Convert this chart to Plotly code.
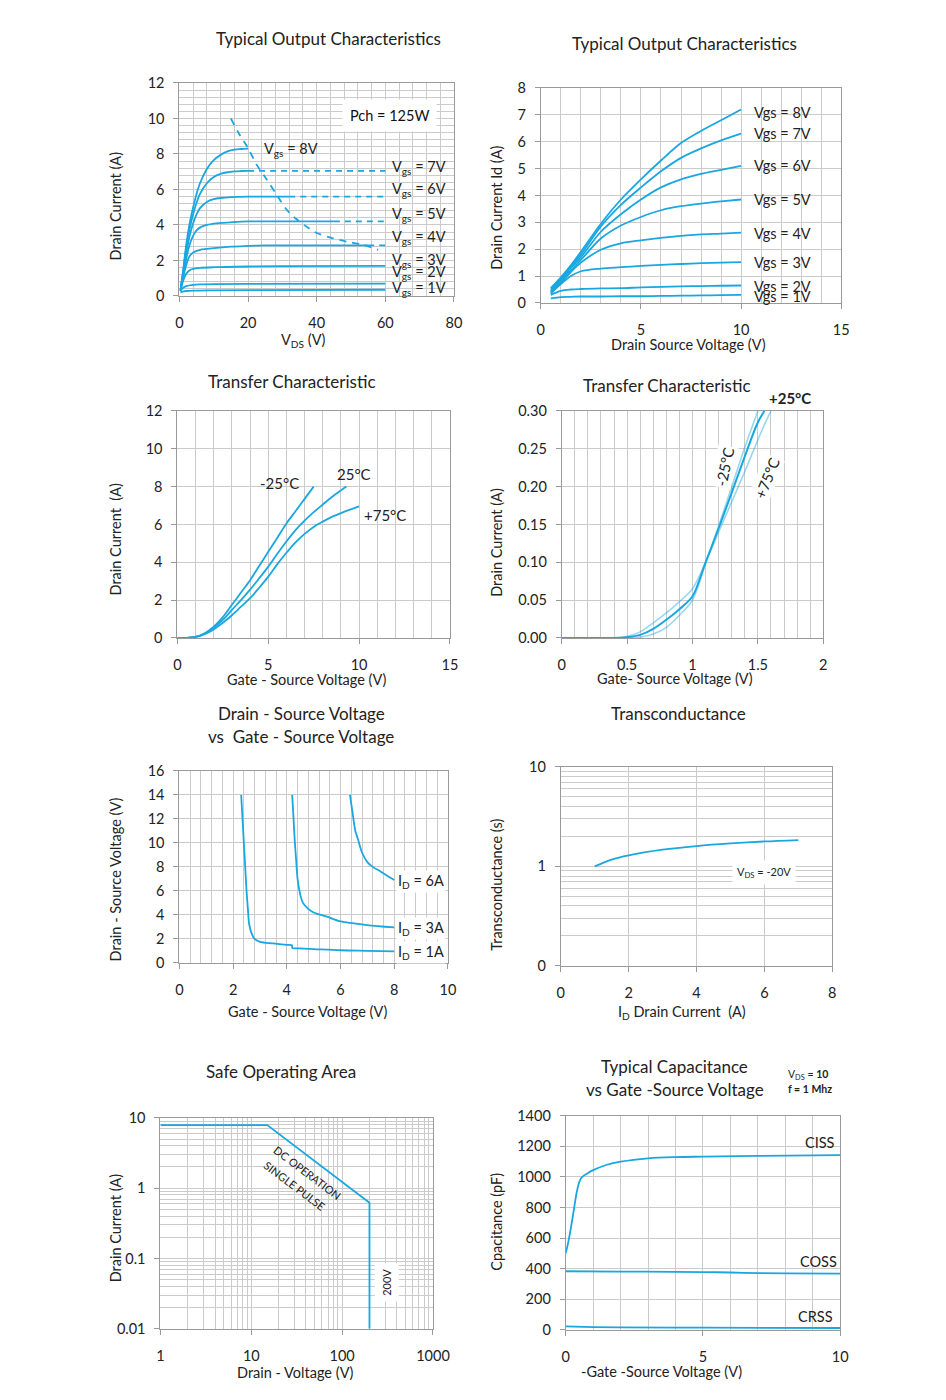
import math
import plotly.graph_objects as go

W, H = 946, 1400
BLUE = "#1aa7e0"
FONT = "Lato"

# ---------------- data ----------------
# Panel 1: Typical Output Characteristics (0-80 V)
p1_v8_x = [0.3, 1, 2, 3, 4, 5, 6, 8, 10, 12, 14, 16, 18, 20]
p1_v8_y = [0.3, 1.3, 2.9, 4.1, 5.0, 5.75, 6.35, 7.15, 7.65, 7.95, 8.15, 8.25, 8.28, 8.3]
p1_v7_x = [0.3, 1, 2, 3, 4, 5, 6, 8, 10, 12, 14, 16, 18, 20]
p1_v7_y = [0.3, 1.25, 2.7, 3.8, 4.6, 5.25, 5.75, 6.35, 6.7, 6.88, 6.97, 7.02, 7.04, 7.05]
p1_v6_x = [0.3, 1, 2, 3, 4, 5, 6, 8, 10, 12, 15, 20, 25, 32]
p1_v6_y = [0.3, 1.2, 2.4, 3.4, 4.1, 4.6, 4.95, 5.3, 5.45, 5.52, 5.57, 5.6, 5.6, 5.6]
p1_v5_x = [0.3, 1, 2, 3, 4, 5, 6, 8, 10, 15, 20, 25, 30, 45]
p1_v5_y = [0.3, 1.1, 2.1, 2.9, 3.4, 3.7, 3.85, 4.0, 4.08, 4.15, 4.2, 4.2, 4.2, 4.2]
p1_v4_x = [0.3, 1, 2, 3, 4, 6, 8, 10, 15, 20, 25, 30, 55]
p1_v4_y = [0.3, 0.95, 1.75, 2.25, 2.45, 2.6, 2.65, 2.7, 2.78, 2.82, 2.85, 2.85, 2.85]
p1_v3_x = [0.3, 1, 2, 3, 4, 6, 10, 20, 30, 60]
p1_v3_y = [0.3, 0.8, 1.25, 1.45, 1.52, 1.58, 1.62, 1.66, 1.68, 1.7]
p1_v2_x = [0.3, 1, 2, 4, 6, 10, 20, 60]
p1_v2_y = [0.3, 0.45, 0.55, 0.62, 0.65, 0.67, 0.68, 0.7]
p1_v1_x = [0.3, 1, 2, 5, 10, 20, 60]
p1_v1_y = [0.2, 0.25, 0.28, 0.3, 0.32, 0.33, 0.35]
p1_dash_x = [[20, 60], [32, 60], [45, 60], [55, 60]]
p1_dash_y = [[7.05, 7.05], [5.6, 5.6], [4.2, 4.2], [2.85, 2.85]]
p1_pch_x = [15, 17.5, 20, 22.5, 25.5, 28.5, 31.3, 34, 37.1, 40, 44.8, 49, 53.6, 57.9]
p1_pch_y = [10, 9.1, 8.33, 7.4, 6.55, 5.65, 4.85, 4.35, 3.9, 3.55, 3.25, 3.05, 2.88, 2.6]
p1_labels = ["8V", "7V", "6V", "5V", "4V", "3V", "2V", "1V"]
p1_label_y = [8.25, 7.25, 6.0, 4.6, 3.3, 2.0, 1.3, 0.4]

# Panel 2: Typical Output Characteristics (0-10 V)
p2_x = [0.5, 1, 1.5, 2, 3, 4, 5, 6, 7, 8, 9, 10]
p2_v8 = [0.55, 0.95, 1.4, 1.9, 2.95, 3.85, 4.6, 5.3, 5.95, 6.4, 6.8, 7.2]
p2_v7 = [0.5, 0.9, 1.35, 1.8, 2.85, 3.65, 4.3, 4.9, 5.4, 5.75, 6.05, 6.3]
p2_v6 = [0.45, 0.85, 1.3, 1.7, 2.65, 3.3, 3.85, 4.3, 4.6, 4.8, 4.95, 5.1]
p2_v5 = [0.42, 0.8, 1.2, 1.6, 2.4, 2.88, 3.2, 3.45, 3.6, 3.7, 3.78, 3.85]
p2_v4 = [0.38, 0.75, 1.15, 1.5, 1.98, 2.22, 2.33, 2.42, 2.5, 2.55, 2.58, 2.62]
p2_v3 = [0.35, 0.7, 1.0, 1.18, 1.28, 1.33, 1.38, 1.42, 1.45, 1.48, 1.5, 1.52]
p2_v2 = [0.3, 0.45, 0.5, 0.52, 0.54, 0.55, 0.58, 0.6, 0.62, 0.63, 0.64, 0.65]
p2_v1 = [0.17, 0.22, 0.23, 0.24, 0.24, 0.25, 0.25, 0.26, 0.27, 0.28, 0.29, 0.3]
p2_labels = ["Vgs = 8V", "Vgs = 7V", "Vgs = 6V", "Vgs = 5V", "Vgs = 4V", "Vgs = 3V", "Vgs = 2V", "Vgs = 1V"]
p2_label_y = [7.1, 6.3, 5.1, 3.85, 2.6, 1.5, 0.62, 0.24]

# Panel 3: Transfer Characteristic (0-15 V)
p3_m25_x = [0, 0.5, 1, 1.5, 2, 2.5, 3, 3.5, 4, 4.5, 5, 5.5, 6, 6.5, 7, 7.5]
p3_m25_y = [0, 0, 0.05, 0.25, 0.6, 1.1, 1.75, 2.4, 3.05, 3.8, 4.55, 5.3, 6.05, 6.7, 7.35, 8.0]
p3_25_x = [0, 0.5, 1, 1.5, 2, 2.5, 3, 3.5, 4, 4.5, 5, 5.5, 6, 6.5, 7, 7.5, 8, 8.5, 9, 9.3]
p3_25_y = [0, 0, 0.05, 0.22, 0.55, 0.95, 1.48, 2.0, 2.55, 3.15, 3.77, 4.45, 5.1, 5.7, 6.2, 6.65, 7.05, 7.45, 7.8, 8.0]
p3_75_x = [0, 0.5, 1, 1.5, 2, 2.5, 3, 3.5, 4, 4.5, 5, 5.5, 6, 6.5, 7, 7.5, 8, 8.5, 9, 9.5, 10]
p3_75_y = [0, 0, 0.05, 0.2, 0.45, 0.8, 1.2, 1.65, 2.1, 2.65, 3.24, 3.9, 4.5, 5.05, 5.5, 5.87, 6.15, 6.4, 6.6, 6.78, 6.95]

# Panel 4: Transfer Characteristic (0-2 V)
p4_25_x = [0, 0.4, 0.5, 0.6, 0.7, 0.8, 0.9, 1.0, 1.1, 1.2, 1.3, 1.4, 1.5, 1.55]
p4_25_y = [0, 0, 0.001, 0.004, 0.012, 0.024, 0.038, 0.055, 0.1, 0.145, 0.192, 0.24, 0.285, 0.30]
p4_75_x = [0, 0.4, 0.5, 0.6, 0.7, 0.8, 0.9, 1.0, 1.1, 1.2, 1.3, 1.4, 1.5, 1.55, 1.6]
p4_75_y = [0, 0, 0.002, 0.008, 0.02, 0.033, 0.048, 0.065, 0.1, 0.14, 0.18, 0.22, 0.262, 0.282, 0.30]
p4_m25_x = [0, 0.4, 0.5, 0.6, 0.7, 0.8, 0.9, 1.0, 1.1, 1.2, 1.3, 1.4, 1.5]
p4_m25_y = [0, 0, 0, 0.001, 0.005, 0.014, 0.03, 0.05, 0.098, 0.148, 0.2, 0.252, 0.30]

# Panel 5: Drain-Source Voltage vs Gate-Source Voltage
p5_1a_x = [2.3, 2.35, 2.4, 2.45, 2.5, 2.55, 2.6, 2.7, 2.8, 3.0, 3.5, 4.0, 4.2, 4.2, 4.5, 5, 6, 7, 8]
p5_1a_y = [14, 12, 10, 8, 6, 4.5, 3.2, 2.4, 2.0, 1.75, 1.62, 1.5, 1.45, 1.25, 1.2, 1.15, 1.05, 1.0, 0.95]
p5_3a_x = [4.2, 4.25, 4.3, 4.35, 4.4, 4.5, 4.6, 4.8, 5.0, 5.5, 6.0, 6.5, 7.0, 8.0]
p5_3a_y = [14, 12, 10, 8.5, 7, 5.7, 5.0, 4.5, 4.2, 3.85, 3.45, 3.3, 3.15, 2.95]
p5_6a_x = [6.35, 6.45, 6.55, 6.65, 6.8, 7.0, 7.2, 7.5, 8.0]
p5_6a_y = [14, 12.5, 11, 10.3, 9.2, 8.4, 8.0, 7.6, 6.9]

# Panel 6: Transconductance
p6_id = [1, 1.5, 2, 3, 4, 5, 6, 7]
p6_gfs = [1.0, 1.17, 1.29, 1.47, 1.6, 1.7, 1.78, 1.84]

# Panel 7: Safe Operating Area
p7_vd = [1, 15, 200, 200]
p7_id = [7.9, 7.9, 0.62, 0.01]

# Panel 8: Typical Capacitance
p8_ciss_x = [0, 0.1, 0.2, 0.3, 0.4, 0.5, 0.6, 0.8, 1.0, 1.5, 2, 3, 4, 5, 7, 10]
p8_ciss_y = [500, 580, 680, 790, 900, 970, 1000, 1025, 1045, 1080, 1100, 1122, 1130, 1133, 1138, 1143]
p8_coss_x = [0, 2, 4, 5, 6, 7, 8, 10]
p8_coss_y = [383, 381, 379, 378, 375, 371, 369, 367]
p8_crss_x = [0, 1, 2, 5, 10]
p8_crss_y = [22, 18, 16, 14, 12]

# ---------------- layout helpers ----------------
fig = go.Figure()

# the page photograph maps figure px -> screen px approx: X = 11.3 + 0.9795*x, Y = 17 + 0.988*y
SX, AX = 0.9795, 11.3
SY, AY = 0.988, 17.0

def ix(x):
    return (x - AX) / SX

def iy(y):
    return (y - AY) / SY

def px(x, y):
    return ix(x) / W, 1 - iy(y) / H

def dom(x0, x1, y0, y1):
    return [ix(x0) / W, ix(x1) / W], [1 - iy(y1) / H, 1 - iy(y0) / H]

GRID = "#cbcbcb"
LINE = "#9a9a9a"
TICK = 14.5
AXT = 14.5
TIT = 17

def axis(domain, rng, typ="linear", dtick=None, minor=None, tickvals=None, ticktext=None,
         tickformat=None, anchor=None, xdir=True):
    d = dict(domain=domain, range=rng, type=typ, showline=True, linecolor=LINE, linewidth=1,
             mirror=True, showgrid=True, gridcolor=GRID, gridwidth=1, zeroline=False,
             ticks="outside", ticklen=5, tickcolor=LINE,
             tickfont=dict(size=TICK, color="#222", family=FONT), anchor=anchor,
             ticklabelstandoff=9 if xdir else 6)
    if dtick is not None:
        d["dtick"] = dtick
    if tickvals is not None:
        d["tickvals"] = tickvals
        d["ticktext"] = ticktext
    if tickformat:
        d["tickformat"] = tickformat
    if minor is not None:
        m = dict(showgrid=True, gridcolor=GRID, gridwidth=1, ticks="")
        m.update(minor)
        d["minor"] = m
    return d

annos = []

def text(x, y, s, size=14, angle=0, xanchor="center", yanchor="middle", color="#222", **kw):
    X, Y = px(x, y)
    a = dict(x=X, y=Y, xref="paper", yref="paper", text=s, showarrow=False, textangle=angle,
             xanchor=xanchor, yanchor=yanchor, font=dict(size=size, color=color, family=FONT))
    a.update(kw)
    annos.append(a)

def dtext(xref, yref, x, y, s, size=14, angle=0, xanchor="center", yanchor="middle", **kw):
    a = dict(x=x, y=y, xref=xref, yref=yref, text=s, showarrow=False, textangle=angle,
             xanchor=xanchor, yanchor=yanchor, font=dict(size=size, color="#222", family=FONT))
    a.update(kw)
    annos.append(a)

def line(xa, ya, x, y, dash="solid", color=BLUE, width=1.8):
    fig.add_trace(go.Scatter(x=x, y=y, mode="lines", xaxis=xa, yaxis=ya, hoverinfo="skip",
                             line=dict(color=color, width=width, dash=dash, shape="spline",
                                       smoothing=0.9)))

def rawline(xa, ya, x, y, dash="solid", color=BLUE, width=1.8):
    fig.add_trace(go.Scatter(x=x, y=y, mode="lines", xaxis=xa, yaxis=ya, hoverinfo="skip",
                             line=dict(color=color, width=width, dash=dash)))

lay = {}

# ---------- Panel 1 ----------
xd, yd = dom(179, 454, 83, 296)
lay["xaxis"] = axis(xd, [0, 80], dtick=20, minor=dict(dtick=4), anchor="y")
lay["yaxis"] = axis(yd, [0, 12], dtick=2, minor=dict(dtick=0.4), anchor="x", xdir=False)
for xs, ys in [(p1_v8_x, p1_v8_y), (p1_v7_x, p1_v7_y), (p1_v6_x, p1_v6_y), (p1_v5_x, p1_v5_y),
               (p1_v4_x, p1_v4_y), (p1_v3_x, p1_v3_y), (p1_v2_x, p1_v2_y), (p1_v1_x, p1_v1_y)]:
    line("x", "y", xs, ys)
for xs, ys in zip(p1_dash_x, p1_dash_y):
    rawline("x", "y", xs, ys, dash="6px,5px")
line("x", "y", p1_pch_x, p1_pch_y, dash="7px,6px")
for i, (lab, ly) in enumerate(zip(p1_labels, p1_label_y)):
    lx = 24 if i == 0 else 61.3
    dtext("x", "y", lx, ly, "V<sub>gs</sub> = " + lab, xanchor="left", size=14.5)
dtext("x", "y", 61.2, 10.15, "Pch = 125W", bgcolor="white", borderpad=7,
      font=dict(size=14.5, color="#111", family=FONT))
text(328, 39, "Typical Output Characteristics", size=TIT)
text(115, 206, "Drain Current (A)", size=AXT, angle=-90)
text(303, 341, "V<sub>DS</sub> (V)", size=AXT)

# ---------- Panel 2 ----------
xd, yd = dom(541, 842, 88, 303)
lay["xaxis2"] = axis(xd, [0, 15], dtick=5, minor=dict(dtick=1), anchor="y2")
lay["yaxis2"] = axis(yd, [0, 8], dtick=1, anchor="x2", xdir=False)
for ys in [p2_v8, p2_v7, p2_v6, p2_v5, p2_v4, p2_v3, p2_v2, p2_v1]:
    line("x2", "y2", p2_x, ys)
for lab, ly in zip(p2_labels, p2_label_y):
    dtext("x2", "y2", 10.55, ly, lab, xanchor="left", size=14.5)
text(685, 44, "Typical Output Characteristics", size=TIT)
text(497, 208, "Drain Current Id (A)", size=AXT, angle=-90)
text(689, 345, "Drain Source Voltage (V)", size=AXT)

# ---------- Panel 3 ----------
xd, yd = dom(177, 450, 411, 638)
lay["xaxis3"] = axis(xd, [0, 15], dtick=5, minor=dict(dtick=1), anchor="y3")
lay["yaxis3"] = axis(yd, [0, 12], dtick=2, anchor="x3", xdir=False)
line("x3", "y3", p3_m25_x, p3_m25_y)
line("x3", "y3", p3_25_x, p3_25_y)
line("x3", "y3", p3_75_x, p3_75_y)
dtext("x3", "y3", 5.6, 8.2, "-25°C", size=15)
dtext("x3", "y3", 9.7, 8.65, "25°C", size=15)
dtext("x3", "y3", 11.4, 6.5, "+75°C", size=15)
text(292, 382, "Transfer Characteristic", size=TIT)
text(115, 540, "Drain Current  (A)", size=AXT, angle=-90)
text(306, 680, "Gate - Source Voltage (V)", size=AXT)

# ---------- Panel 4 ----------
xd, yd = dom(562, 824, 411, 638)
lay["xaxis4"] = axis(xd, [0, 2], dtick=0.5, minor=dict(dtick=0.1), anchor="y4", tickformat="~g")
lay["yaxis4"] = axis(yd, [0, 0.3], dtick=0.05, tickformat=".2f", anchor="x4", xdir=False)
line("x4", "y4", p4_m25_x, p4_m25_y, color="rgba(26,167,224,0.45)", width=1.6)
line("x4", "y4", p4_75_x, p4_75_y, color="rgba(26,167,224,0.45)", width=1.6)
line("x4", "y4", p4_25_x, p4_25_y, width=2)
dtext("x4", "y4", 1.244, 0.226, "-25°C", size=15, angle=-78, bgcolor="white")
dtext("x4", "y4", 1.57, 0.211, "+75°C", size=15, angle=-68, bgcolor="white")
text(791, 398, "<b>+25°C</b>", size=15)
text(667, 386, "Transfer Characteristic", size=TIT)
text(497, 542, "Drain Current (A)", size=AXT, angle=-90)
text(675, 679, "Gate- Source Voltage (V)", size=AXT)

# ---------- Panel 5 ----------
xd, yd = dom(179, 448, 771, 963)
lay["xaxis5"] = axis(xd, [0, 10], dtick=2, minor=dict(dtick=0.4), anchor="y5")
lay["yaxis5"] = axis(yd, [0, 16], dtick=2, anchor="x5", xdir=False)
line("x5", "y5", p5_1a_x, p5_1a_y)
line("x5", "y5", p5_3a_x, p5_3a_y)
line("x5", "y5", p5_6a_x, p5_6a_y)
dtext("x5", "y5", 8.05, 6.75, "I<sub>D</sub> = 6A", xanchor="left", size=14.5, bgcolor="white")
dtext("x5", "y5", 8.05, 2.85, "I<sub>D</sub> = 3A", xanchor="left", size=14.5, bgcolor="white")
dtext("x5", "y5", 8.05, 0.9, "I<sub>D</sub> = 1A", xanchor="left", size=14.5, bgcolor="white")
text(301, 714, "Drain - Source Voltage", size=TIT)
text(301, 737, "vs  Gate - Source Voltage", size=TIT)
text(115, 880, "Drain - Source Voltage (V)", size=AXT, angle=-90)
text(307, 1012, "Gate - Source Voltage (V)", size=AXT)

# ---------- Panel 6 ----------
xd, yd = dom(561, 833, 767, 966)
log_minor_6 = [m * 10 ** e for e in (-1, 0) for m in range(2, 10)]
lay["xaxis6"] = axis(xd, [0, 8], dtick=2, anchor="y6")
lay["yaxis6"] = axis(yd, [-1, 1], typ="log", tickvals=[0.1, 1, 10], ticktext=["0", "1", "10"],
                     minor=dict(tickvals=log_minor_6), anchor="x6", xdir=False)
line("x6", "y6", p6_id, p6_gfs)
dtext("x6", "y6", 6.0, math.log10(0.865), "V<sub>DS</sub> = -20V", size=11, bgcolor="white",
      borderpad=4)
text(679, 714, "Transconductance", size=TIT)
text(497, 885, "Transconductance (s)", size=AXT, angle=-90)
text(682, 1013, "I<sub>D</sub> Drain Current  (A)", size=AXT)

# ---------- Panel 7 ----------
xd, yd = dom(160, 433, 1118, 1329)
log_minor_x7 = [m * 10 ** e for e in (0, 1, 2) for m in range(2, 10)]
log_minor_y7 = [m * 10 ** e for e in (-2, -1, 0) for m in range(2, 10)]
lay["xaxis7"] = axis(xd, [0, 3], typ="log", tickvals=[1, 10, 100, 1000],
                     ticktext=["1", "10", "100", "1000"], minor=dict(tickvals=log_minor_x7), anchor="y7")
lay["yaxis7"] = axis(yd, [-2, 1], typ="log", tickvals=[0.01, 0.1, 1, 10],
                     ticktext=["0.01", "0.1", "1", "10"], minor=dict(tickvals=log_minor_y7),
                     anchor="x7", xdir=False)
rawline("x7", "y7", p7_vd, p7_id)
text(307, 1173, "DC OPERATION", size=11, angle=37)
text(294, 1186, "SINGLE PULSE", size=11, angle=37)
text(387, 1283, "200V", size=11, angle=-90, bgcolor="white", borderpad=5)
text(281, 1072, "Safe Operating Area", size=TIT)
text(115, 1228, "Drain Current (A)", size=AXT, angle=-90)
text(295, 1373, "Drain - Voltage (V)", size=AXT)

# ---------- Panel 8 ----------
xd, yd = dom(566, 841, 1116, 1330)
lay["xaxis8"] = axis(xd, [0, 10], dtick=5, minor=dict(dtick=1), anchor="y8")
lay["yaxis8"] = axis(yd, [0, 1400], dtick=200, anchor="x8", xdir=False)
line("x8", "y8", p8_ciss_x, p8_ciss_y)
line("x8", "y8", p8_coss_x, p8_coss_y)
line("x8", "y8", p8_crss_x, p8_crss_y)
dtext("x8", "y8", 9.25, 1225, "CISS", size=14.5)
dtext("x8", "y8", 9.2, 447, "COSS", size=14.5)
dtext("x8", "y8", 9.1, 88, "CRSS", size=14.5)
text(675, 1067, "Typical Capacitance", size=TIT)
text(675, 1090, "vs Gate -Source Voltage", size=TIT)
text(787, 1075, "V<sub>DS</sub> = <b>10</b>", size=10.5, xanchor="left")
text(787, 1089, "<b>f = 1 Mhz</b>", size=10.5, xanchor="left")
text(497, 1222, "Cpacitance (pF)", size=AXT, angle=-90)
text(662, 1372, "-Gate -Source Voltage (V)", size=AXT)

fig.update_layout(width=W, height=H, margin=dict(l=0, r=0, t=0, b=0), showlegend=False,
                  plot_bgcolor="white", paper_bgcolor="white", annotations=annos,
                  font=dict(family=FONT, color="#222"), **lay)
fig.write_html("out.html")
